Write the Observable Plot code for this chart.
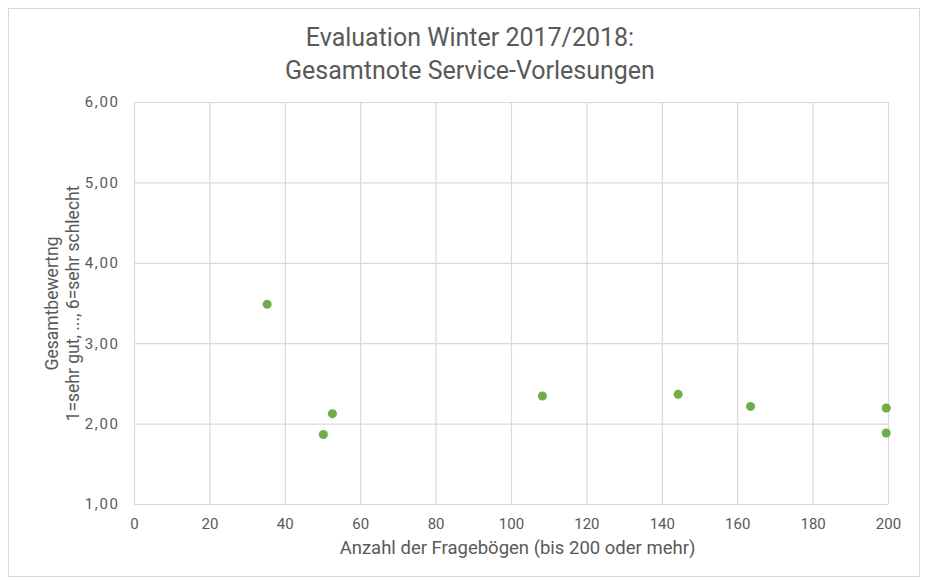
<!DOCTYPE html>
<html>
<head>
<meta charset="utf-8">
<script src="https://cdn.jsdelivr.net/npm/d3@7"></script>
<script src="https://cdn.jsdelivr.net/npm/@observablehq/plot@0.6"></script>
<style>
  html, body { margin: 0; padding: 0; background: #fff; }
  #wrap { position: relative; width: 928px; height: 585px; font-family: Roboto, "Noto Sans", sans-serif; }
  #border { position: absolute; left: 8px; top: 8px; width: 912px; height: 569px; border: 1px solid #d9d9d9; box-sizing: border-box; }
  #title { position: absolute; left: 0; top: 21px; width: 940px; text-align: center; color: #595959; font-size: 25px; line-height: 33px; }
  #chart { position: absolute; left: 0; top: 90px; }
</style>
</head>
<body>
<div id="wrap">
  <div id="border"></div>
  <div id="title">Evaluation Winter 2017/2018:<br>Gesamtnote Service-Vorlesungen</div>
  <div id="chart"></div>
</div>
<script>
const fragebogen = [35.2, 50.1, 52.5, 108.2, 144.2, 163.4, 199.4, 199.4];
const bewertung  = [3.49, 1.87, 2.13, 2.35, 2.37, 2.22, 2.20, 1.89];
const xTicks = [0, 20, 40, 60, 80, 100, 120, 140, 160, 180, 200];
const yTicks = [1, 2, 3, 4, 5, 6];
const xLabel = "Anzahl der Fragebögen (bis 200 oder mehr)";
const yLabelLines = ["Gesamtbewertng", "1=sehr gut, ..., 6=sehr schlecht"];

const data = fragebogen.map((x, i) => ({x, y: bewertung[i]}));
const fmtY = d => d3.format(".2f")(d).replace(".", ",");

const chart = Plot.plot({
  width: 928,
  height: 480,
  marginLeft: 134,
  marginRight: 40,
  marginTop: 12,
  marginBottom: 66,
  style: {fontFamily: "Roboto, sans-serif", fontSize: "15px", color: "#595959", background: "transparent"},
  x: {domain: [0, 200], ticks: xTicks, label: null},
  y: {domain: [1, 6], ticks: yTicks, label: null},
  marks: [
    Plot.gridX(xTicks, {stroke: "#d9d9d9", strokeOpacity: 1, strokeWidth: 1.2}),
    Plot.gridY(yTicks, {stroke: "#d9d9d9", strokeOpacity: 1, strokeWidth: 1.2}),
    Plot.axisX(xTicks, {tickSize: 0, tickPadding: 14, fill: "#595959", label: null, fontSize: 15}),
    Plot.axisY(yTicks, {tickSize: 0, tickPadding: 15, fill: "#595959", label: null, tickFormat: fmtY, fontSize: 15, className: "yticks"}),
    Plot.text([xLabel], {frameAnchor: "bottom", dy: 49, dx: 6, fill: "#595959", fontSize: 18.5}),
    Plot.text([yLabelLines.join("\n")], {frameAnchor: "left", textAnchor: "middle", rotate: -90, dx: -73, fill: "#595959", fontSize: 17.5, lineHeight: 1.25}),
    Plot.dot(data, {x: "x", y: "y", r: 4.5, fill: "#70ad47", stroke: "none"})
  ]
});
d3.select(chart).selectAll(".yticks text").style("letter-spacing", "1.6px");
document.getElementById("chart").appendChild(chart);
</script>
</body>
</html>
